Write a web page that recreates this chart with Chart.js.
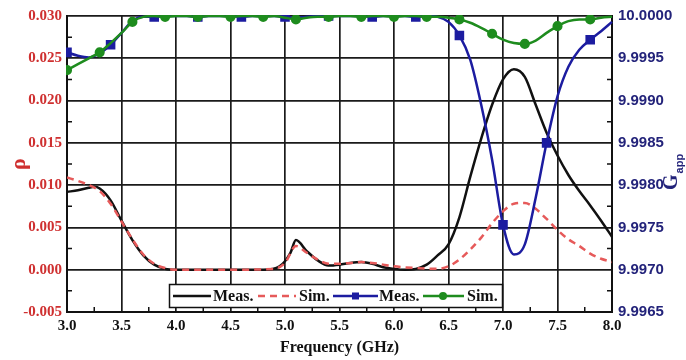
<!DOCTYPE html>
<html>
<head>
<meta charset="utf-8">
<script src="https://cdn.jsdelivr.net/npm/chart.js@4.4.1/dist/chart.umd.min.js"></script>
<style>
  html, body { margin: 0; padding: 0; background: #fff; }
  #wrap { width: 686px; height: 360px; }
</style>
</head>
<body>
<div id="wrap"><canvas id="chart" width="686" height="360"></canvas></div>
<script>
// valores
const freqTicks = [3.0, 3.5, 4.0, 4.5, 5.0, 5.5, 6.0, 6.5, 7.0, 7.5, 8.0];
const rhoTicks = [-0.005, 0.000, 0.005, 0.010, 0.015, 0.020, 0.025, 0.030];
const gTicks = [9.9965, 9.9970, 9.9975, 9.9980, 9.9985, 9.9990, 9.9995, 10.0000];

const freqRhoMeas = [3.0, 3.1, 3.2, 3.25, 3.3, 3.4, 3.5, 3.6, 3.7, 3.8, 3.9, 4.0, 4.5, 4.8, 4.95, 5.05, 5.1, 5.2, 5.3, 5.4,
  5.5, 5.6, 5.7, 5.8, 5.9, 6.0, 6.1, 6.2, 6.3, 6.4, 6.5, 6.6, 6.7, 6.8, 6.9, 7.0, 7.1, 7.2, 7.3, 7.4,
  7.5, 7.6, 7.7, 7.8, 7.9, 8.0];
const rhoMeas = [0.0092, 0.0094, 0.0097, 0.0098, 0.0096, 0.0082, 0.0058, 0.0035, 0.0017, 0.0006, 0.0001, 0.0, 0.0, 0.0, 0.0004, 0.0020, 0.0035, 0.0022, 0.0011, 0.0005,
  0.0006, 0.0008, 0.0009, 0.0007, 0.0003, 0.0001, 0.0, 0.0001, 0.0006, 0.0017, 0.0030, 0.0062, 0.0110, 0.0155, 0.0195, 0.0225, 0.0237, 0.0228, 0.0195, 0.0162,
  0.0135, 0.0112, 0.0093, 0.0076, 0.0058, 0.0039];

const freqRhoSim = [3.0, 3.1, 3.2, 3.3, 3.4, 3.5, 3.6, 3.7, 3.8, 3.9, 4.0, 4.5, 4.9, 5.0, 5.1, 5.2, 5.3, 5.4, 5.5, 5.6,
  5.7, 5.8, 5.9, 6.0, 6.2, 6.4, 6.5, 6.6, 6.7, 6.8, 6.9, 7.0, 7.1, 7.2, 7.3, 7.4, 7.5, 7.6, 7.7, 7.8, 7.9, 8.0];
const rhoSim = [0.0109, 0.0105, 0.0100, 0.0093, 0.0078, 0.0057, 0.0036, 0.0018, 0.0007, 0.0002, 0.0, 0.0, 0.0001, 0.0008, 0.0028, 0.0020, 0.0012, 0.0007, 0.0007, 0.0008,
  0.0009, 0.0008, 0.0006, 0.0004, 0.0002, 0.0001, 0.0004, 0.0012, 0.0024, 0.0038, 0.0055, 0.0069, 0.0078, 0.0079, 0.0072, 0.0060, 0.0047, 0.0036, 0.0028, 0.0019, 0.0013, 0.0009];

const freqG = [3.0, 3.1, 3.2, 3.3, 3.4, 3.5, 3.6, 3.7, 3.8, 3.9, 4.0, 4.1, 4.2, 4.3, 4.4, 4.5, 4.6, 4.7, 4.8, 4.9,
  5.0, 5.1, 5.2, 5.3, 5.4, 5.5, 5.6, 5.7, 5.8, 5.9, 6.0, 6.1, 6.2, 6.3, 6.4, 6.5, 6.6, 6.7, 6.8, 6.9,
  7.0, 7.1, 7.2, 7.3, 7.4, 7.5, 7.6, 7.7, 7.8, 7.9, 8.0];
const gMeas = [9.99957, 9.99953, 9.99951, 9.99956, 9.99966, 9.99980, 9.99994, 9.99999, 9.99999, 10.0, 10.0, 10.0, 9.99999, 10.0, 10.0, 10.0, 9.99999, 10.0, 10.0, 10.0,
  9.99999, 9.99998, 9.99999, 10.0, 10.0, 10.0, 10.0, 10.0, 9.99999, 10.0, 10.0, 10.0, 9.99999, 10.0, 9.99999, 9.99993, 9.99977, 9.99948, 9.99895, 9.99830,
  9.99753, 9.99718, 9.99730, 9.99785, 9.99850, 9.99905, 9.99940, 9.99960, 9.99972, 9.99982, 9.99993];
const gSim = [9.99936, 9.99943, 9.99950, 9.99957, 9.99968, 9.99980, 9.99993, 9.99999, 10.0, 9.99999, 10.0, 10.0, 9.99999, 10.0, 10.0, 9.99999, 10.0, 10.0, 9.99999, 10.0,
  9.99998, 9.99996, 9.99998, 9.99999, 9.99999, 10.0, 10.0, 9.99999, 10.0, 10.0, 9.99999, 10.0, 10.0, 9.99999, 9.99999, 9.99998, 9.99996, 9.99992, 9.99986, 9.99979,
  9.99972, 9.99968, 9.99967, 9.99971, 9.99980, 9.99988, 9.99994, 9.99996, 9.99996, 9.99998, 9.99999];

const RED = '#cf3030';
const NAVY = '#23237a';
const BLUE = '#1c1ca0';
const GREEN = '#1e8c1e';
const SERIF = "'Liberation Serif', 'Times New Roman', serif";
const SANS = "'Liberation Sans', Arial, sans-serif";

function pts(xs, ys) {
  return xs.map((x, i) => ({ x: x, y: ys[i] }));
}

// ticks menores, título do eixo direito e legenda dentro da área do gráfico
const extras = {
  id: 'extras',
  afterDatasetsDraw(chart) {
    const { ctx } = chart;
    ctx.save();
    // legenda
    const lx = 169.5, ly = 284.5, lw = 333, lh = 23, cy = ly + lh / 2;
    ctx.fillStyle = '#fff';
    ctx.fillRect(lx, ly, lw, lh);
    ctx.strokeStyle = '#111';
    ctx.lineWidth = 1.5;
    ctx.strokeRect(lx, ly, lw, lh);

    ctx.lineWidth = 2.5;
    ctx.strokeStyle = '#111';
    ctx.beginPath(); ctx.moveTo(173, cy); ctx.lineTo(211, cy); ctx.stroke();

    ctx.strokeStyle = '#e65a5a';
    ctx.setLineDash([7, 5]);
    ctx.beginPath(); ctx.moveTo(258, cy); ctx.lineTo(296, cy); ctx.stroke();
    ctx.setLineDash([]);

    ctx.strokeStyle = BLUE;
    ctx.beginPath(); ctx.moveTo(333, cy); ctx.lineTo(378, cy); ctx.stroke();
    ctx.fillStyle = BLUE;
    ctx.fillRect(352, cy - 3.5, 7, 7);

    ctx.strokeStyle = GREEN;
    ctx.beginPath(); ctx.moveTo(423, cy); ctx.lineTo(464, cy); ctx.stroke();
    ctx.fillStyle = GREEN;
    ctx.beginPath(); ctx.arc(443, cy, 4, 0, Math.PI * 2); ctx.fill();

    ctx.fillStyle = '#111';
    ctx.font = 'bold 16px ' + SERIF;
    ctx.textBaseline = 'middle';
    ctx.textAlign = 'left';
    ctx.fillText('Meas.', 213, cy + 1);
    ctx.fillText('Sim.', 299, cy + 1);
    ctx.fillText('Meas.', 379, cy + 1);
    ctx.fillText('Sim.', 467, cy + 1);
    ctx.restore();
  },
  afterDraw(chart) {
    const { ctx, chartArea: a, scales } = chart;
    ctx.save();
    ctx.strokeStyle = '#111';
    ctx.lineWidth = 1.5;
    ctx.beginPath();
    for (let i = 0; i < freqTicks.length - 1; i++) {
      const px = scales.x.getPixelForValue((freqTicks[i] + freqTicks[i + 1]) / 2);
      ctx.moveTo(px, a.bottom); ctx.lineTo(px, a.bottom - 5);
    }
    for (let i = 0; i < rhoTicks.length - 1; i++) {
      const py = scales.y.getPixelForValue((rhoTicks[i] + rhoTicks[i + 1]) / 2);
      ctx.moveTo(a.left, py); ctx.lineTo(a.left + 5, py);
    }
    for (let i = 0; i < gTicks.length - 1; i++) {
      const py = scales.y2.getPixelForValue((gTicks[i] + gTicks[i + 1]) / 2);
      ctx.moveTo(a.right, py); ctx.lineTo(a.right - 5, py);
    }
    ctx.stroke();

    // G_app com subscrito
    ctx.translate(672, 190);
    ctx.rotate(-Math.PI / 2);
    ctx.fillStyle = NAVY;
    ctx.textBaseline = 'middle';
    ctx.textAlign = 'left';
    ctx.font = 'bold 20px ' + SERIF;
    ctx.fillText('G', 0, 0);
    const gw = ctx.measureText('G').width;
    ctx.font = 'bold 11px ' + SANS;
    ctx.fillText('app', gw + 1, 8);
    ctx.restore();
  }
};

const ctx = document.getElementById('chart').getContext('2d');
new Chart(ctx, {
  type: 'line',
  data: {
    datasets: [
      {
        label: 'Meas.', data: pts(freqRhoMeas, rhoMeas), yAxisID: 'y',
        borderColor: '#111', borderWidth: 2.5, pointRadius: 0,
        cubicInterpolationMode: 'monotone', order: 4
      },
      {
        label: 'Sim.', data: pts(freqRhoSim, rhoSim), yAxisID: 'y',
        borderColor: '#e65a5a', borderWidth: 2.5, borderDash: [7, 5], pointRadius: 0,
        cubicInterpolationMode: 'monotone', order: 3
      },
      {
        label: 'Meas.', data: pts(freqG, gMeas), yAxisID: 'y2',
        borderColor: BLUE, backgroundColor: BLUE, borderWidth: 2.5,
        pointStyle: 'rect', pointRadius: c => (c.dataIndex % 4 === 0 ? 5 : 0),
        cubicInterpolationMode: 'monotone', clip: 1, order: 2
      },
      {
        label: 'Sim.', data: pts(freqG, gSim), yAxisID: 'y2',
        borderColor: GREEN, backgroundColor: GREEN, borderWidth: 2.5,
        pointStyle: 'circle', pointRadius: c => (c.dataIndex % 3 === 0 ? 3.8 : 0),
        cubicInterpolationMode: 'monotone', clip: 1, order: 1
      }
    ]
  },
  options: {
    responsive: false,
    animation: false,
    layout: { padding: { top: 16, left: 0, right: 0, bottom: 0 } },
    plugins: { legend: { display: false }, tooltip: { enabled: false } },
    scales: {
      x: {
        type: 'linear', min: 3, max: 8,
        afterBuildTicks: s => { s.ticks = freqTicks.map(v => ({ value: v })); },
        afterFit: s => { s.height = 48; },
        grid: { color: '#1a1a1a', lineWidth: 1.7, drawTicks: false },
        border: { color: '#111', width: 2 },
        ticks: {
          padding: 5, color: '#111', maxRotation: 0,
          font: { family: SERIF, size: 15, weight: 'bold' },
          callback: v => Number(v).toFixed(1)
        },
        title: {
          display: true, text: 'Frequency (GHz)', color: '#111',
          font: { family: SERIF, size: 16, weight: 'bold' },
          padding: { top: 0, bottom: 3 }
        }
      },
      y: {
        type: 'linear', position: 'left', min: -0.005, max: 0.030,
        afterBuildTicks: s => { s.ticks = rhoTicks.map(v => ({ value: v })); },
        afterFit: s => { s.width = 67; },
        grid: { color: '#1a1a1a', lineWidth: 1.7, drawTicks: false },
        border: { color: '#111', width: 2 },
        ticks: {
          padding: 5, color: RED,
          font: { family: SERIF, size: 15, weight: 'bold' },
          callback: v => Number(v).toFixed(3)
        },
        title: {
          display: true, text: 'ρ', color: RED,
          font: { family: SERIF, size: 22, weight: 'bold' },
          padding: { top: 6, bottom: 0 }
        }
      },
      y2: {
        type: 'linear', position: 'right', min: 9.9965, max: 10.0,
        afterBuildTicks: s => { s.ticks = gTicks.map(v => ({ value: v })); },
        afterFit: s => { s.width = 74; },
        grid: { display: false, drawTicks: false },
        border: { color: '#111', width: 2 },
        ticks: {
          padding: 6, color: NAVY,
          font: { family: SANS, size: 15, weight: 'bold' },
          callback: v => Number(v).toFixed(4)
        }
      }
    }
  },
  plugins: [extras]
});
</script>
</body>
</html>
